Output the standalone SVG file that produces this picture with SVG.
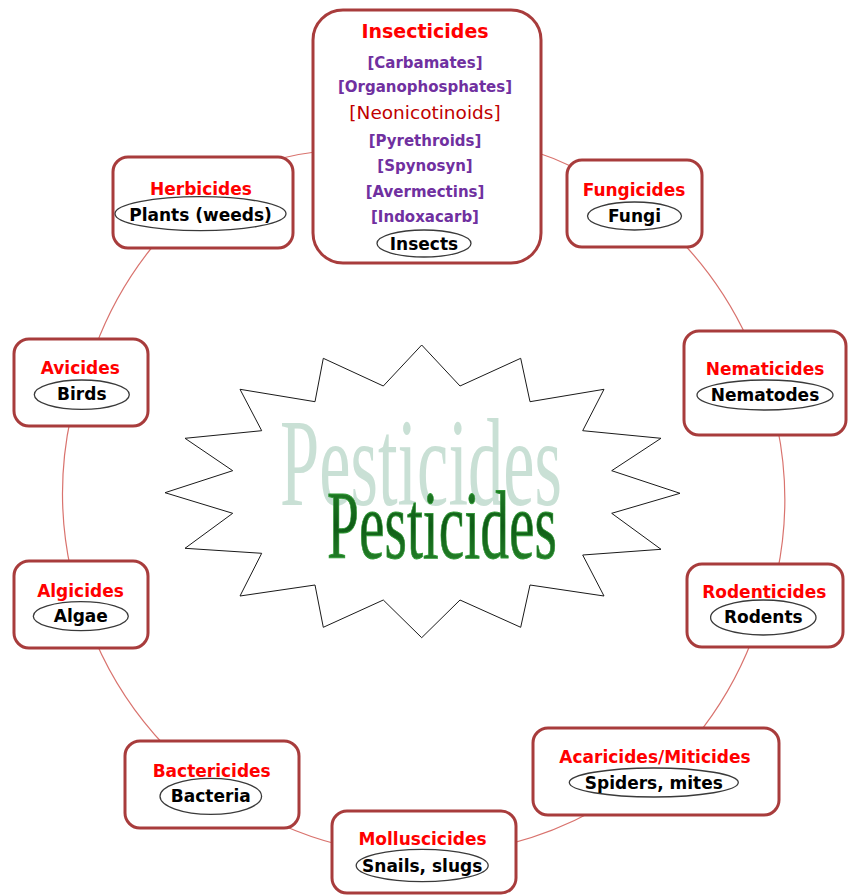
<svg xmlns="http://www.w3.org/2000/svg" width="848" height="896" viewBox="0 0 848 896">
  <defs>
    <style>
      .box { fill: #ffffff; stroke: #a83c3c; stroke-width: 3; }
      .oval { fill: #ffffff; stroke: #3a3a3a; stroke-width: 1.3; }
      .ttl { font-family: "DejaVu Sans", "Liberation Sans", sans-serif; font-weight: bold; font-size: 17px; fill: #ff0000; text-anchor: middle; }
      .sub { font-family: "DejaVu Sans", "Liberation Sans", sans-serif; font-weight: bold; font-size: 17px; fill: #000000; text-anchor: middle; }
      .item { font-family: "DejaVu Sans", "Liberation Sans", sans-serif; font-weight: bold; font-size: 15px; fill: #7030a0; text-anchor: middle; }
      .conn { fill: none; stroke: #d9736e; stroke-width: 1.2; }
      .star { fill: #ffffff; stroke: #1a1a1a; stroke-width: 1; }
      .big { font-family: "Liberation Serif", "Times New Roman", serif; }
    </style>
    <linearGradient id="grn" x1="0" y1="0" x2="0" y2="1">
      <stop offset="0" stop-color="#2a8a2e"/>
      <stop offset="0.5" stop-color="#0f5c16"/>
      <stop offset="1" stop-color="#2d8f31"/>
    </linearGradient>
  </defs>

  <g id="connectors">
    <path class="conn" d="M 530 150 A 361 361 0 0 1 575 168"/>
    <path class="conn" d="M 680 240 A 361 361 0 0 1 748 340"/>
    <path class="conn" d="M 777 425 A 361 361 0 0 1 777 574"/>
    <path class="conn" d="M 752 640 A 361 361 0 0 1 695 738"/>
    <path class="conn" d="M 595 810 A 361 361 0 0 1 505 845"/>
    <path class="conn" d="M 340 845 A 361 361 0 0 1 282 825"/>
    <path class="conn" d="M 165 746 A 361 361 0 0 1 95 640"/>
    <path class="conn" d="M 71 571 A 361 361 0 0 1 71 416"/>
    <path class="conn" d="M 95 348 A 361 361 0 0 1 158 240"/>
    <path class="conn" d="M 278 159 A 361 361 0 0 1 322 151"/>
  </g>

  <g id="center">
    <polygon class="star" points="421.7,345 460,386 520.7,358.3 530,401.7 604,389.3 582.7,430.7 661,438.3 611.7,470.7 680,493.3 611.7,513.3 661,549.3 582.7,555 604,596 530,585 520.7,627.3 460,600 421.7,637.7 383.3,600 323.3,627.3 315,585 240,596 261.7,553.3 185,548.3 232.7,513.3 165,492.7 232.7,470.7 185,438.3 261.7,430.7 240,389.3 315,401.7 323.3,358.3 383.3,386"/>
    <text class="big" x="280" y="505" font-size="124" fill="#c9e0d5" textLength="282" lengthAdjust="spacingAndGlyphs">Pesticides</text>
    <text class="big" x="327" y="558" font-size="97" fill="url(#grn)" stroke="#2f9a35" stroke-width="0.9" textLength="230" lengthAdjust="spacingAndGlyphs">Pesticides</text>
  </g>

  <g id="insecticides">
    <rect class="box" x="313" y="10" width="228" height="253" rx="30"/>
    <text class="ttl" x="425" y="38" style="font-size:19px">Insecticides</text>
    <text class="item" x="425" y="68">[Carbamates]</text>
    <text class="item" x="425" y="92">[Organophosphates]</text>
    <text x="425" y="119" font-family="DejaVu Sans, Liberation Sans, sans-serif" font-size="18.5" fill="#c00000" text-anchor="middle">[Neonicotinoids]</text>
    <text class="item" x="425" y="146">[Pyrethroids]</text>
    <text class="item" x="425" y="171">[Spynosyn]</text>
    <text class="item" x="425" y="197">[Avermectins]</text>
    <text class="item" x="425" y="222">[Indoxacarb]</text>
    <ellipse class="oval" cx="424" cy="243.5" rx="47" ry="13.5"/>
    <text class="sub" x="424" y="250">Insects</text>
  </g>

  <g id="herbicides">
    <rect class="box" x="113" y="157" width="180" height="91" rx="15"/>
    <text class="ttl" x="201" y="195">Herbicides</text>
    <ellipse class="oval" cx="200.5" cy="213.7" rx="85.5" ry="17"/>
    <text class="sub" x="200.5" y="221">Plants (weeds)</text>
  </g>

  <g id="fungicides">
    <rect class="box" x="567" y="160" width="135" height="87" rx="15"/>
    <text class="ttl" x="634" y="195.5">Fungicides</text>
    <ellipse class="oval" cx="634.5" cy="216" rx="47" ry="14"/>
    <text class="sub" x="634.5" y="221.5">Fungi</text>
  </g>

  <g id="nematicides">
    <rect class="box" x="684" y="331" width="162" height="104" rx="15"/>
    <text class="ttl" x="765" y="375">Nematicides</text>
    <ellipse class="oval" cx="765" cy="395" rx="68" ry="15"/>
    <text class="sub" x="765" y="400.7">Nematodes</text>
  </g>

  <g id="rodenticides">
    <rect class="box" x="687" y="564" width="156" height="83" rx="15"/>
    <text class="ttl" x="764.3" y="597.7">Rodenticides</text>
    <ellipse class="oval" cx="763.3" cy="617.5" rx="52.7" ry="17.5"/>
    <text class="sub" x="763.3" y="623.3">Rodents</text>
  </g>

  <g id="acaricides">
    <rect class="box" x="533" y="728" width="246" height="87" rx="15"/>
    <text class="ttl" x="655" y="763.3">Acaricides/Miticides</text>
    <ellipse class="oval" cx="653.8" cy="782.5" rx="84.5" ry="14.5"/>
    <text class="sub" x="653.8" y="789.3">Spiders, mites</text>
  </g>

  <g id="molluscicides">
    <rect class="box" x="332" y="811" width="184" height="82" rx="15"/>
    <text class="ttl" x="422.5" y="845">Molluscicides</text>
    <ellipse class="oval" cx="422.2" cy="865.5" rx="66" ry="16.2"/>
    <text class="sub" x="422.2" y="871.7">Snails, slugs</text>
  </g>

  <g id="bactericides">
    <rect class="box" x="125" y="741" width="174" height="87" rx="15"/>
    <text class="ttl" x="211.7" y="776.7">Bactericides</text>
    <ellipse class="oval" cx="210.8" cy="796.3" rx="50.8" ry="18"/>
    <text class="sub" x="210.8" y="801.7">Bacteria</text>
  </g>

  <g id="algicides">
    <rect class="box" x="14" y="561" width="134" height="87" rx="15"/>
    <text class="ttl" x="80.5" y="597.3">Algicides</text>
    <ellipse class="oval" cx="80.8" cy="616.2" rx="47.5" ry="14.5"/>
    <text class="sub" x="80.8" y="621.7">Algae</text>
  </g>

  <g id="avicides">
    <rect class="box" x="14" y="339" width="134" height="87" rx="15"/>
    <text class="ttl" x="80.3" y="374.3">Avicides</text>
    <ellipse class="oval" cx="81.8" cy="394.7" rx="47.5" ry="14.7"/>
    <text class="sub" x="81.8" y="400">Birds</text>
  </g>
</svg>
